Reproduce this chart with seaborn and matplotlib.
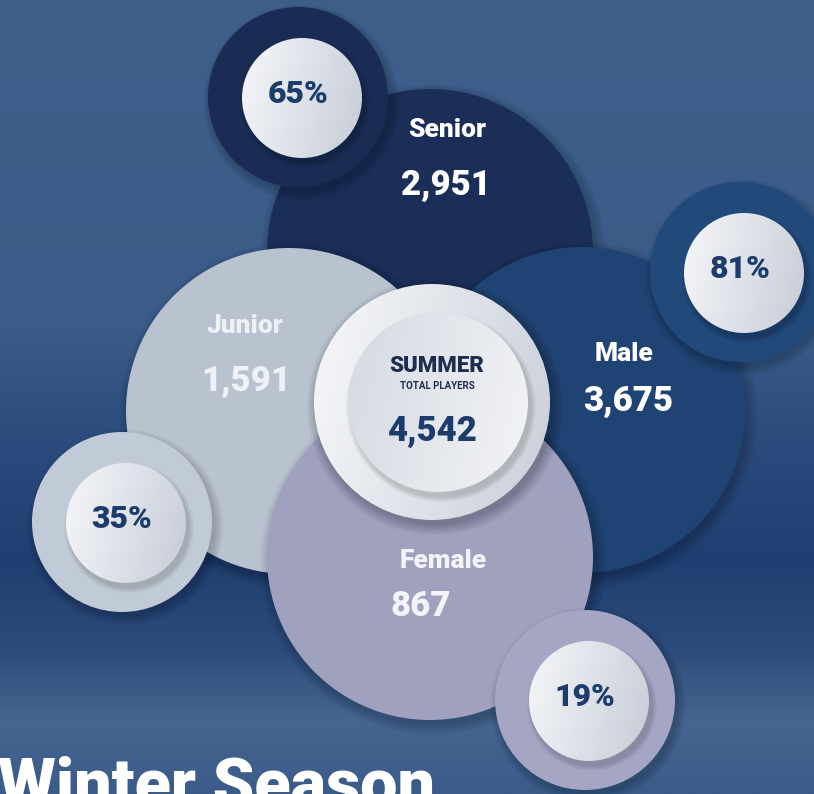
import numpy as np
import matplotlib.pyplot as plt
from matplotlib.patches import Circle
from matplotlib.colors import LinearSegmentedColormap
import seaborn as sns

sns.set_theme(style="white")
plt.rcParams['font.family'] = ['Roboto', 'DejaVu Sans']

# chart values
categories = ['Senior', 'Junior', 'Male', 'Female']
players = [2951, 1591, 3675, 867]
shares = [65, 35, 81, 19]
total_players = 4542
centre_title = 'SUMMER'
centre_sub = 'TOTAL PLAYERS'
season_title = 'Winter Season'

# layout in pixel units
big_xy = {'Senior': (430, 252), 'Junior': (289, 411), 'Male': (582, 410), 'Female': (430, 557)}
big_r = 163
big_col = {'Senior': '#1b2e57', 'Junior': '#b8c3cf', 'Male': '#1f4473', 'Female': '#9fa1bf'}
small_xy = {'Senior': (298, 97), 'Junior': (122, 522), 'Male': (740, 272), 'Female': (585, 700)}
small_col = {'Senior': '#1a2c54', 'Junior': '#c1cbd7', 'Male': '#21497a', 'Female': '#a4a6c3'}
label_xy = {'Senior': (447, 130), 'Junior': (245, 326), 'Male': (624, 354), 'Female': (443, 561)}
value_xy = {'Senior': (446, 185), 'Junior': (246, 381), 'Male': (628, 401), 'Female': (421, 607)}
label_col = {'Senior': 'white', 'Junior': '#eef1f5', 'Male': 'white', 'Female': '#f4f4f8'}
navy = '#1c3c6c'
heavy = 'black'

W, H = 814, 794
fig = plt.figure(figsize=(W / 100, H / 100), dpi=100)
ax = fig.add_axes([0, 0, 1, 1])

# background
yy = np.linspace(0, H, 400)
stops_y = [0, 330, 450, 560, 650, 720, 794]
stops_c = np.array([[0x3f, 0x5f, 0x8b], [0x3b, 0x5b, 0x88], [0x2a, 0x4a, 0x7b],
                    [0x1f, 0x3f, 0x70], [0x2b, 0x4b, 0x7a], [0x46, 0x66, 0x90],
                    [0x3b, 0x5b, 0x89]]) / 255
bg = np.stack([np.interp(yy, stops_y, stops_c[:, k]) for k in range(3)], axis=-1)
bg = np.repeat(bg[:, None, :], 4, axis=1)
ax.imshow(bg, extent=(0, W, H, 0), aspect='auto', zorder=0, interpolation='bilinear')


def shadow(xy, r, z, spread=10, strength=0.03):
    x, y = xy
    for k in np.linspace(spread, 0, 8):
        ax.add_patch(Circle((x + 3, y + 5), r + k, color='black', alpha=strength,
                            lw=0, zorder=z))


def grad_disc(xy, r, c1, c2, z):
    x, y = xy
    gx, gy = np.meshgrid(np.linspace(0, 1, 200), np.linspace(0, 1, 200))
    g = 0.8 * gx + 0.2 * gy
    cmap = LinearSegmentedColormap.from_list('g', [c1, c2])
    im = ax.imshow(g, cmap=cmap, extent=(x - r, x + r, y + r, y - r), zorder=z,
                   aspect='auto', interpolation='bilinear')
    im.set_clip_path(Circle(xy, r, transform=ax.transData))


# big bubbles
z = 2
for cat in categories:
    shadow(big_xy[cat], big_r, z, 10, 0.025)
    ax.add_patch(Circle(big_xy[cat], big_r, color=big_col[cat], lw=0, zorder=z + 0.5))
    z += 1

# small share bubbles
for cat, pct in zip(categories, shares):
    x, y = small_xy[cat]
    shadow((x, y), 90, 10, 8, 0.025)
    ax.add_patch(Circle((x, y), 90, color=small_col[cat], lw=0, zorder=10.5))
    shadow((x + 4, y + 1), 60, 11, 5, 0.02)
    grad_disc((x + 4, y + 1), 60, '#f6f7fa', '#c6ccd7', 11.5)
    ax.text(x, y - 3, f'{pct}%', ha='center', va='center', color=navy,
            fontsize=23, fontweight=heavy, zorder=12)

# centre bubble
cx, cy = 432, 402
shadow((cx, cy), 118, 13, 10, 0.03)
grad_disc((cx, cy), 118, '#f7f8fa', '#c9cfd9', 13.5)
shadow((cx + 6, cy), 90, 14, 5, 0.02)
grad_disc((cx + 6, cy), 90, '#d4d9e1', '#f3f4f7', 14.5)
ax.text(437, 366, centre_title, ha='center', va='center', color='#1d2d4f',
        fontsize=16, fontweight=heavy, zorder=15)
ax.text(437, 386, centre_sub, ha='center', va='center', color='#1d2d4f',
        fontsize=7, fontweight='bold', zorder=15)
ax.text(432, 432, f'{total_players:,}', ha='center', va='center', color=navy,
        fontsize=25, fontweight=heavy, zorder=15)

# labels on big bubbles
for cat, n in zip(categories, players):
    lx, ly = label_xy[cat]
    ax.text(lx, ly, cat, ha='center', va='center', color=label_col[cat],
            fontsize=19, fontweight=heavy, zorder=9)
    vx, vy = value_xy[cat]
    ax.text(vx, vy, f'{n:,}', ha='center', va='center', color=label_col[cat],
            fontsize=25, fontweight=heavy, zorder=9)

ax.text(-2, 806, season_title, ha='left', va='baseline', color='white',
        fontsize=48, fontweight=heavy, zorder=20)

ax.set_xlim(0, W)
ax.set_ylim(H, 0)
ax.set_aspect('equal')
ax.axis('off')
fig.savefig('out.png', dpi=100)
